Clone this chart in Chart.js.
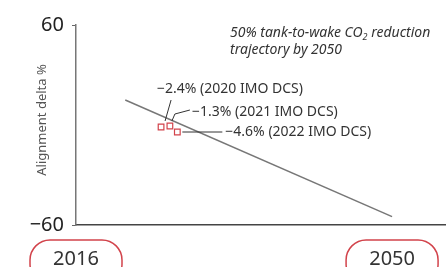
<!DOCTYPE html>
<html>
<head>
<meta charset="utf-8">
<script src="https://cdn.jsdelivr.net/npm/chart.js@4"></script>
<style>
  html, body { margin: 0; padding: 0; background: #fff; }
  #wrap { width: 446px; height: 267px; }
</style>
</head>
<body>
<div id="wrap"><canvas id="myChart" width="446" height="267"></canvas></div>
<script>
// data
const trajectoryYears = [2021.3, 2050];
const trajectoryDelta = [15, -55];
const dcsYears = [2025.15, 2026.1, 2026.9];
const dcsDelta = [-1.2, -0.6, -4.2];
const dcsLabels = ['\u22122.4% (2020 IMO DCS)', '\u22121.3% (2021 IMO DCS)', '\u22124.6% (2022 IMO DCS)'];
const yTicks = [-60, 60];
const yearMarks = [2016, 2050];

const FONT = "'Noto Sans', 'Open Sans', sans-serif";
const RED = '#d2434b';
const INK = '#333333';

const overlay = {
  id: 'overlay',
  afterDraw(chart) {
    const ctx = chart.ctx;
    const x = chart.scales.x;
    const meta = chart.getDatasetMeta(1);
    const p = meta.data.map((el) => ({ x: el.x, y: el.y }));

    ctx.save();
    // leader lines
    ctx.strokeStyle = INK;
    ctx.lineWidth = 1;
    ctx.beginPath();
    ctx.moveTo(p[0].x + 10, p[0].y - 27);
    ctx.lineTo(p[0].x + 4, p[0].y - 6);
    ctx.moveTo(p[1].x + 20, p[1].y - 16);
    ctx.lineTo(p[1].x + 5, p[1].y - 12);
    ctx.lineTo(p[1].x + 2, p[1].y - 5);
    ctx.moveTo(p[2].x + 5, p[2].y);
    ctx.lineTo(p[2].x + 45, p[2].y);
    ctx.stroke();

    // point labels
    ctx.fillStyle = INK;
    ctx.font = '14px ' + FONT;
    ctx.textBaseline = 'middle';
    ctx.textAlign = 'left';
    ctx.fillText(dcsLabels[0], p[0].x - 4, p[0].y - 38);
    ctx.fillText(dcsLabels[1], p[1].x + 22, p[1].y - 14);
    ctx.fillText(dcsLabels[2], p[2].x + 48, p[2].y);

    // y axis title
    ctx.save();
    ctx.translate(42, 120);
    ctx.rotate(-Math.PI / 2);
    ctx.textAlign = 'center';
    ctx.fillStyle = '#555';
    ctx.font = '13px ' + FONT;
    ctx.fillText('Alignment delta %', 0, 0);
    ctx.restore();

    // note, with subscript 2
    ctx.font = 'italic 14px ' + FONT;
    ctx.textBaseline = 'alphabetic';
    let nx = 230;
    const part1 = '50% tank-to-wake CO';
    ctx.fillText(part1, nx, 37);
    nx += ctx.measureText(part1).width;
    ctx.font = 'italic 9px ' + FONT;
    ctx.fillText('2', nx, 40);
    nx += ctx.measureText('2').width;
    ctx.font = 'italic 14px ' + FONT;
    ctx.fillText(' reduction', nx, 37);
    ctx.fillText('trajectory by 2050', 230, 54);

    // year boxes
    ctx.font = '20px ' + FONT;
    ctx.textAlign = 'center';
    ctx.textBaseline = 'middle';
    yearMarks.forEach((yr) => {
      const cx = x.getPixelForValue(yr);
      const w = 92, top = 240, h = 44, r = 20;
      ctx.strokeStyle = RED;
      ctx.lineWidth = 1.5;
      ctx.beginPath();
      ctx.roundRect(cx - w / 2, top, w, h, r);
      ctx.stroke();
      ctx.fillStyle = INK;
      ctx.fillText(String(yr), cx, 259);
    });
    ctx.restore();
  }
};

new Chart(document.getElementById('myChart').getContext('2d'), {
  type: 'scatter',
  data: {
    datasets: [
      {
        label: 'trajectory',
        data: trajectoryYears.map((yr, i) => ({ x: yr, y: trajectoryDelta[i] })),
        showLine: true,
        borderColor: '#777777',
        borderWidth: 1.5,
        pointRadius: 0,
        order: 2
      },
      {
        label: 'IMO DCS',
        data: dcsYears.map((yr, i) => ({ x: yr, y: dcsDelta[i] })),
        pointStyle: 'rect',
        pointRadius: 4,
        borderColor: RED,
        borderWidth: 1.2,
        backgroundColor: '#ffffff',
        order: 1
      }
    ]
  },
  options: {
    responsive: false,
    animation: false,
    layout: { autoPadding: false, padding: { left: 0, right: 0, top: 25, bottom: 0 } },
    plugins: {
      legend: { display: false },
      tooltip: { enabled: false }
    },
    scales: {
      x: {
        type: 'linear',
        min: 2016,
        max: 2055.8,
        ticks: { display: false },
        grid: { display: false },
        border: { color: '#444', width: 1.5 },
        afterFit: (scale) => { scale.height = 42; }
      },
      y: {
        min: -60,
        max: 60,
        afterBuildTicks: (scale) => { scale.ticks = yTicks.map((v) => ({ value: v })); },
        ticks: {
          color: '#222',
          font: { family: FONT, size: 20 },
          padding: 8,
          callback: (v) => (v < 0 ? '\u2212' + Math.abs(v) : String(v))
        },
        grid: { drawOnChartArea: false, drawTicks: true, tickLength: 4, color: '#666' },
        border: { color: '#777', width: 1.5 },
        afterFit: (scale) => { scale.width = 76; }
      }
    }
  },
  plugins: [overlay]
});
</script>
</body>
</html>
